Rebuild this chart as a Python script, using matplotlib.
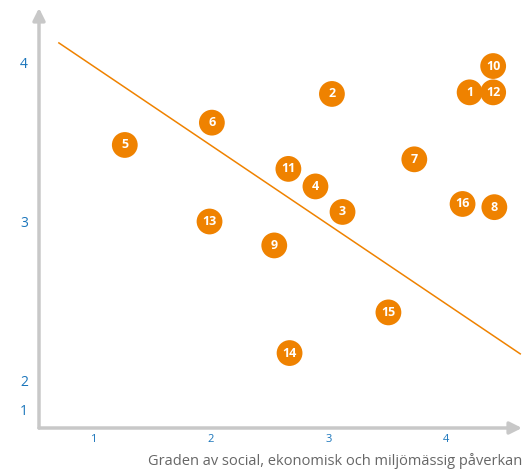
import numpy as np
import matplotlib.pyplot as plt

# punkter (nummer, x, y)
labels = ['1', '2', '3', '4', '5', '6', '7', '8', '9', '10', '11', '12', '13', '14', '15', '16']
xs = [4.20, 3.03, 3.12, 2.89, 1.27, 2.01, 3.73, 4.41, 2.54, 4.40, 2.66, 4.40, 1.99, 2.67, 3.51, 4.14]
ys = [3.81, 3.80, 3.06, 3.22, 3.48, 3.62, 3.39, 3.09, 2.85, 3.975, 3.33, 3.81, 3.00, 2.175, 2.43, 3.11]

# trendlinje
line_x = [0.71, 4.63]
line_y = [4.12, 2.17]

xticks = [1, 2, 3, 4]
yticks = [1.818, 2, 3, 4]
ytick_labels = ['1', '2', '3', '4']
xlabel = 'Graden av social, ekonomisk och miljömässig påverkan'

orange = '#ef8200'
blue = '#1a75bb'
grey = '#c8c8c8'

plt.rcParams['font.family'] = ['Open Sans', 'DejaVu Sans']

fig = plt.figure(figsize=(5.24, 4.70), dpi=100)
W, H = 524, 470
ax = fig.add_axes([39/W, (H-428)/H, (522-39)/W, (428-8)/H])
ax.set_xlim(0.541, 4.645)
ax.set_ylim(1.705, 4.339)
for s in ax.spines.values():
    s.set_visible(False)

# axlar med pilar
ax.annotate('', xy=(1, 0), xytext=(0, 0), xycoords='axes fraction',
            arrowprops=dict(arrowstyle='-|>', color=grey, lw=2.5, mutation_scale=18, shrinkA=0, shrinkB=0))
ax.annotate('', xy=(0, 1), xytext=(0, 0), xycoords='axes fraction',
            arrowprops=dict(arrowstyle='-|>', color=grey, lw=2.5, mutation_scale=18, shrinkA=0, shrinkB=0))

ax.plot(line_x, line_y, color=orange, lw=1.1, zorder=2)
ax.scatter(xs, ys, s=345, color=orange, edgecolors='none', zorder=3)
for l, x, y in zip(labels, xs, ys):
    ax.text(x, y, l, color='white', fontsize=9, fontweight='bold', ha='center', va='center', zorder=4)

ax.set_xticks(xticks)
ax.set_xticklabels([str(t) for t in xticks], color=blue, fontsize=8)
ax.set_yticks(yticks)
ax.set_yticklabels(ytick_labels, color=blue, fontsize=10)
ax.tick_params(axis='x', length=0, pad=4)
ax.tick_params(axis='y', length=0, pad=8)
ax.set_xlabel(xlabel, color='#666666', fontsize=10.5, labelpad=6, loc='right')

fig.savefig('out.png', dpi=100)
